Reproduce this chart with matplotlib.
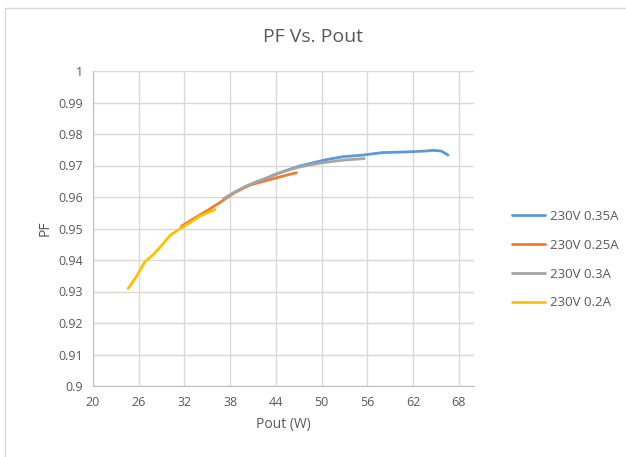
import matplotlib.pyplot as plt
from matplotlib.patches import Rectangle

# PF vs output power, four load settings at 230V
pout_035 = [41.5, 43.5, 45.8, 47.1, 49.3, 50.5, 52.8, 55.4, 58.0, 61.1, 63.7, 64.6, 65.7, 66.6]
pf_035 = [0.9645, 0.9668, 0.9688, 0.9698, 0.9711, 0.9718, 0.9728, 0.9733, 0.9741, 0.9743, 0.9746, 0.9748, 0.9746, 0.9733]

pout_025 = [31.6, 33.6, 35.2, 36.5, 37.6, 38.6, 40.6, 42.4, 44.1, 45.5, 46.7]
pf_025 = [0.9507, 0.9537, 0.9560, 0.9580, 0.9598, 0.9614, 0.9638, 0.9650, 0.9661, 0.9670, 0.9677]

pout_03 = [37.1, 38.6, 40.1, 41.6, 43.2, 44.9, 46.7, 48.5, 50.2, 52.8, 55.6]
pf_03 = [0.9594, 0.9616, 0.9635, 0.9650, 0.9664, 0.9680, 0.9693, 0.9702, 0.9709, 0.9717, 0.9722]

pout_02 = [24.6, 25.7, 26.8, 27.9, 29.0, 30.1, 31.4, 32.7, 34.0, 36.0]
pf_02 = [0.9309, 0.9348, 0.9394, 0.9417, 0.9446, 0.9478, 0.9499, 0.9518, 0.9539, 0.9560]

labels = ['230V 0.35A', '230V 0.25A', '230V 0.3A', '230V 0.2A']
colors = ['#5B9BD5', '#ED7D31', '#A5A5A5', '#FFC000']

plt.rcParams['font.family'] = ['Open Sans', 'DejaVu Sans']
txt = '#595959'

fig = plt.figure(figsize=(6.26, 4.57), dpi=100)

# chart area border (top and left edges visible)
fig.patches.append(Rectangle((5 / 626, -0.1), 1.0, (457 - 8) / 457 + 0.1,
                             transform=fig.transFigure, fill=False,
                             edgecolor='#D9D9D9', linewidth=1))

ax = fig.add_axes([93 / 626, 71 / 457, (474 - 93) / 626, (386 - 71) / 457])

series = [(pout_035, pf_035), (pout_025, pf_025), (pout_03, pf_03), (pout_02, pf_02)]
for (x, y), lab, c in zip(series, labels, colors):
    ax.plot(x, y, color=c, linewidth=2.0, label=lab, solid_capstyle='round')

ax.set_xlim(20, 70)
ax.set_ylim(0.9, 1.0)
ax.set_xticks(range(20, 69, 6))
ax.set_yticks([0.9 + 0.01 * i for i in range(11)])
ax.set_yticklabels(['0.9', '0.91', '0.92', '0.93', '0.94', '0.95', '0.96',
                    '0.97', '0.98', '0.99', '1'])
ax.grid(True, color='#D9D9D9', linewidth=1)
ax.set_axisbelow(True)
ax.tick_params(length=0, labelsize=9, labelcolor=txt, pad=7)
for s in ['top', 'right']:
    ax.spines[s].set_visible(False)
for s in ['left', 'bottom']:
    ax.spines[s].set_color('#BFBFBF')

ax.set_xlabel('Pout (W)', fontsize=10, color=txt, labelpad=6)
ax.set_ylabel('PF', fontsize=10, color=txt, labelpad=4)
fig.text(313 / 626, 1 - 37 / 457, 'PF Vs. Pout', ha='center', va='center',
         fontsize=14, color=txt)

leg = fig.legend(loc='upper left', bbox_to_anchor=(500 / 626, 1 - 198 / 457),
                 frameon=False, fontsize=9.5, handlelength=2.5, labelspacing=1.2,
                 handletextpad=0.4)
for t in leg.get_texts():
    t.set_color(txt)

fig.savefig('out.png')
